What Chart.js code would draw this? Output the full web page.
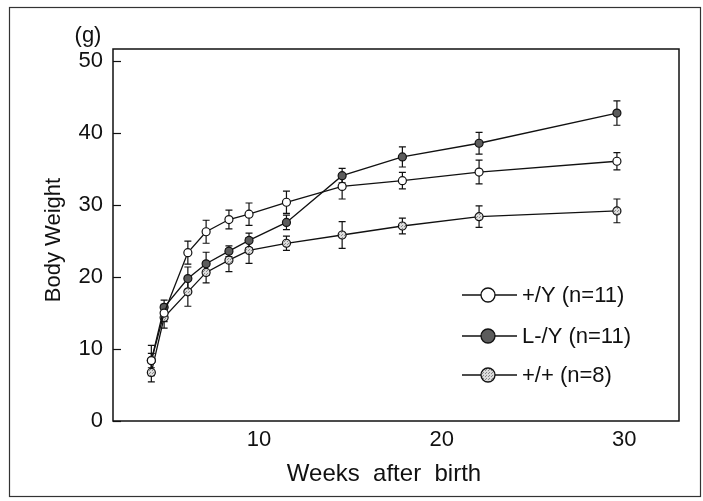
<!DOCTYPE html>
<html>
<head>
<meta charset="utf-8">
<script src="https://cdn.jsdelivr.net/npm/chart.js@4.4.1/dist/chart.umd.min.js"></script>
<style>
  html, body { margin: 0; padding: 0; background: #fff; }
  #wrap { width: 703px; height: 501px; position: relative; }
</style>
</head>
<body>
<div id="wrap"><canvas id="c"></canvas></div>
<script>
// Age in weeks at each weighing
const weeks = [4.1, 4.8, 6.1, 7.1, 8.35, 9.45, 11.5, 14.55, 17.85, 22.05, 29.6];

// Group labels
const groupLabels = ['+/Y (n=11)', 'L-/Y (n=11)', '+/+ (n=8)'];

// Mean body weight (g) and SD per group
const plusYMean  = [8.4, 15.0, 23.4, 26.3, 28.0, 28.75, 30.4, 32.6, 33.4, 34.6, 36.1];
const plusYSd    = [2.1, 1.2, 1.6, 1.6, 1.3, 1.55, 1.55, 1.75, 1.15, 1.65, 1.2];
const lMinusYMean = [8.4, 15.8, 19.8, 21.85, 23.6, 25.1, 27.6, 34.1, 36.7, 38.6, 42.8];
const lMinusYSd   = [1.0, 1.0, 1.6, 1.6, 0.75, 1.0, 1.0, 1.0, 1.4, 1.5, 1.7];
const plusPlusMean = [6.75, 14.4, 17.95, 20.65, 22.35, 23.7, 24.7, 25.85, 27.1, 28.4, 29.2];
const plusPlusSd   = [1.3, 1.5, 2.0, 1.45, 1.6, 1.8, 1.0, 1.85, 1.1, 1.5, 1.65];

// Axis ticks
const yTickValues = [0, 10, 20, 30, 40, 50];
const xTickValues = [10, 20, 30];

const FONT = '"Liberation Sans", Arial, Helvetica, sans-serif';
const INK = '#111';

// Stippled light-grey fill for the +/+ markers
function stipple() {
  const p = document.createElement('canvas');
  p.width = 3; p.height = 3;
  const g = p.getContext('2d');
  g.fillStyle = '#dcdcdc';
  g.fillRect(0, 0, 3, 3);
  g.fillStyle = '#8a8a8a';
  g.fillRect(0, 0, 1, 1);
  g.fillRect(2, 1, 1, 1);
  return g.createPattern(p, 'repeat');
}
const lightFill = stipple();

function toPoints(ys) { return weeks.map((w, i) => ({ x: w, y: ys[i] })); }

const sds = [plusYSd, lMinusYSd, plusPlusSd];
const markerFills = ['#ffffff', '#5c5c5c', lightFill];

function ds(label, ys, fill) {
  return {
    label: label,
    data: toPoints(ys),
    borderColor: INK,
    borderWidth: 1.3,
    pointRadius: 4,
    pointBorderWidth: 1.2,
    pointBackgroundColor: fill,
    pointBorderColor: INK,
    fill: false,
    tension: 0
  };
}

// Error bars drawn under the lines and markers
const errorBars = {
  id: 'errorBars',
  beforeDatasetsDraw(chart) {
    const ctx = chart.ctx;
    const xs = chart.scales.x, ys = chart.scales.y;
    ctx.save();
    ctx.strokeStyle = INK;
    ctx.lineWidth = 1.2;
    chart.data.datasets.forEach((d, k) => {
      d.data.forEach((p, i) => {
        const sd = sds[k][i];
        const px = xs.getPixelForValue(p.x);
        const top = ys.getPixelForValue(p.y + sd);
        const bot = ys.getPixelForValue(p.y - sd);
        ctx.beginPath();
        ctx.moveTo(px, top); ctx.lineTo(px, bot);
        ctx.moveTo(px - 3.5, top); ctx.lineTo(px + 3.5, top);
        ctx.moveTo(px - 3.5, bot); ctx.lineTo(px + 3.5, bot);
        ctx.stroke();
      });
    });
    ctx.restore();
  }
};

// Frame, plot box, inward ticks, axis titles and in-plot legend
const decor = {
  id: 'decor',
  beforeDraw(chart) {
    const ctx = chart.ctx;
    ctx.save();
    ctx.fillStyle = '#fff';
    ctx.fillRect(0, 0, chart.width, chart.height);
    ctx.strokeStyle = '#333';
    ctx.lineWidth = 1.2;
    ctx.strokeRect(9.5, 7.5, 691, 489);
    ctx.restore();
  },
  afterDraw(chart) {
    const ctx = chart.ctx;
    const a = chart.chartArea;
    const ys = chart.scales.y;
    ctx.save();
    ctx.strokeStyle = INK;
    ctx.lineWidth = 1.5;
    ctx.strokeRect(a.left, a.top, a.right - a.left, a.bottom - a.top);
    ctx.lineWidth = 1.2;
    yTickValues.forEach(v => {
      const py = Math.round(ys.getPixelForValue(v)) + 0.5;
      ctx.beginPath();
      ctx.moveTo(a.left, py); ctx.lineTo(a.left + 8, py);
      ctx.stroke();
    });

    ctx.fillStyle = INK;
    ctx.textAlign = 'center';
    ctx.textBaseline = 'middle';
    ctx.font = '22px ' + FONT;
    ctx.fillText('(g)', 88, 36);
    ctx.font = '24px ' + FONT;
    ctx.fillText('Weeks  after  birth', 384, 474);
    ctx.save();
    ctx.translate(54, 240);
    ctx.rotate(-Math.PI / 2);
    ctx.font = '22px ' + FONT;
    ctx.fillText('Body Weight', 0, 0);
    ctx.restore();

    // legend
    const rows = [295, 336, 375];
    chart.data.datasets.forEach((d, k) => {
      const y = rows[k];
      ctx.strokeStyle = INK;
      ctx.lineWidth = 1.3;
      ctx.beginPath();
      ctx.moveTo(462, y); ctx.lineTo(517, y);
      ctx.stroke();
      ctx.beginPath();
      ctx.arc(488, y, 7, 0, Math.PI * 2);
      ctx.fillStyle = markerFills[k];
      ctx.fill();
      ctx.lineWidth = 1.3;
      ctx.stroke();
      ctx.fillStyle = INK;
      ctx.textAlign = 'left';
      ctx.font = '22px ' + FONT;
      ctx.fillText(d.label, 522, y + 1);
    });
    ctx.restore();
  }
};

new Chart(document.getElementById('c'), {
  type: 'line',
  data: {
    datasets: [
      ds(groupLabels[0], plusYMean, markerFills[0]),
      ds(groupLabels[1], lMinusYMean, markerFills[1]),
      ds(groupLabels[2], plusPlusMean, markerFills[2])
    ]
  },
  options: {
    responsive: true,
    maintainAspectRatio: false,
    animation: false,
    events: [],
    layout: { padding: { left: 0, top: 49, right: 24, bottom: 0 } },
    plugins: { legend: { display: false }, tooltip: { enabled: false } },
    scales: {
      x: {
        type: 'linear',
        min: 2,
        max: 33,
        afterBuildTicks(s) { s.ticks = xTickValues.map(v => ({ value: v })); },
        afterFit(s) { s.height = 80; },
        grid: { display: false, drawTicks: false },
        border: { display: false },
        ticks: { color: INK, font: { family: FONT, size: 22 }, padding: 6, maxRotation: 0 }
      },
      y: {
        type: 'linear',
        min: 0,
        max: 51.7,
        afterBuildTicks(s) { s.ticks = yTickValues.map(v => ({ value: v })); },
        afterFit(s) { s.width = 113; },
        grid: { display: false, drawTicks: false },
        border: { display: false },
        ticks: { color: INK, font: { family: FONT, size: 22 }, padding: 10 }
      }
    }
  },
  plugins: [errorBars, decor]
});
</script>
</body>
</html>
